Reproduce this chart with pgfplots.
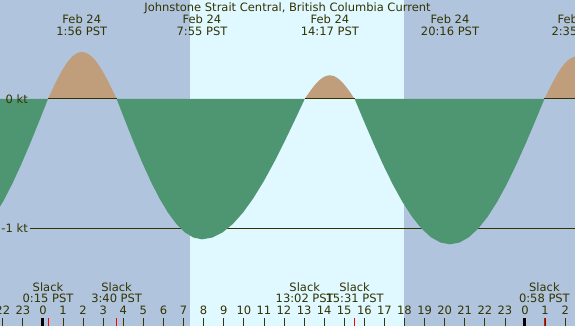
\documentclass[border=0pt]{standalone}
\usepackage{pgfplots}
\pgfplotsset{compat=1.18}
\usepackage{fontspec}
\setmainfont{DejaVu Sans}
\definecolor{nightc}{RGB}{176,196,222}
\definecolor{dayc}{RGB}{224,248,255}
\definecolor{ebbc}{RGB}{78,150,114}
\definecolor{floodc}{RGB}{192,158,124}
\definecolor{txt}{RGB}{51,51,0}
\newcommand{\lf}{\fontsize{11.5}{12.3}\selectfont}
\tikzset{lab/.style={anchor=base, inner sep=0pt, font=\lf, text=txt}}
\begin{document}
\begin{tikzpicture}
\begin{axis}[
  scale only axis, width=575pt, height=326pt,
  xmin=-2.14, xmax=26.49, ymin=-1.760, ymax=0.767,
  axis line style={draw=none},
  axis background/.style={fill=nightc},
  axis on top,
  ytick=\empty,
  xtick={-2,...,26},
  xticklabels={22,23,0,1,2,3,4,5,6,7,8,9,10,11,12,13,14,15,16,17,18,19,20,21,22,23,0,1,2},
  xtick pos=bottom, tick align=inside,
  major tick length=8pt,
  tick style={color=txt, line width=0.8pt},
  xticklabel style={anchor=base, yshift=11pt, font=\lf, text=txt, inner sep=0pt},
  extra x ticks={0,24}, extra x tick labels={},
  extra x tick style={tick style={color=black, line width=3pt}},
  clip=true,
]
% daylight band
\fill[dayc] (axis cs:7.32,-1.76) rectangle (axis cs:17.98,0.767);
% reference line at -1 kt
\draw[txt, line width=0.9pt] (axis cs:-0.65,-1) -- (axis cs:26.6,-1);
% ebb areas
\addplot[fill=ebbc, draw=none] coordinates {
 (-2.42,0) (-2.42,-0.906) (-1.975,-0.792) (-1.53,-0.658) (-1.085,-0.508) (-0.64,-0.346) (-0.195,-0.175) (0.25,0)
};
\addplot[fill=ebbc, draw=none] coordinates {
 (3.667,0) (4.092,-0.1702) (4.517,-0.3362) (4.942,-0.4940) (5.367,-0.6395) (5.792,-0.7693)
 (6.217,-0.8802) (6.642,-0.9694) (7.067,-1.0348) (7.492,-1.0746) (7.917,-1.088)
 (8.429,-1.0746) (8.940,-1.0348) (9.452,-0.9694) (9.963,-0.8802) (10.475,-0.7693)
 (10.987,-0.6395) (11.498,-0.4940) (12.010,-0.3362) (12.521,-0.1702) (13.033,0)
};
\addplot[fill=ebbc, draw=none] coordinates {
 (15.517,0) (15.992,-0.1763) (16.467,-0.3482) (16.942,-0.5117) (17.417,-0.6625) (17.892,-0.7969)
 (18.367,-0.9117) (18.842,-1.0042) (19.317,-1.0719) (19.792,-1.1131) (20.267,-1.127)
 (20.737,-1.1131) (21.207,-1.0719) (21.677,-1.0042) (22.147,-0.9117) (22.617,-0.7969)
 (23.087,-0.6625) (23.557,-0.5117) (24.027,-0.3482) (24.497,-0.1763) (24.967,0)
};
% flood areas
\addplot[fill=floodc, draw=none] coordinates {
 (0.25,0) (0.418,0.0569) (0.587,0.1125) (0.755,0.1653) (0.923,0.2140) (1.092,0.2574)
 (1.260,0.2945) (1.428,0.3243) (1.596,0.3462) (1.765,0.3595) (1.933,0.364)
 (2.106,0.3595) (2.280,0.3462) (2.453,0.3243) (2.627,0.2945) (2.800,0.2574)
 (2.973,0.2140) (3.147,0.1653) (3.320,0.1125) (3.494,0.0569) (3.667,0)
};
\addplot[fill=floodc, draw=none] coordinates {
 (13.033,0) (13.158,0.0286) (13.283,0.0565) (13.408,0.0831) (13.533,0.1076) (13.658,0.1294)
 (13.783,0.1480) (13.908,0.1631) (14.033,0.1741) (14.158,0.1807) (14.283,0.183)
 (14.406,0.1807) (14.530,0.1741) (14.653,0.1631) (14.777,0.1480) (14.900,0.1294)
 (15.023,0.1076) (15.147,0.0831) (15.270,0.0565) (15.394,0.0286) (15.517,0)
};
\addplot[fill=floodc, draw=none] coordinates {
 (24.967,0) (25.129,0.0516) (25.290,0.1020) (25.452,0.1498) (25.613,0.1940) (25.775,0.2333)
 (25.937,0.2670) (26.098,0.2940) (26.260,0.3139) (26.421,0.3259) (26.583,0.33) (26.75,0.327) (26.75,0)
};
% zero line, visible beneath the flood segments
\draw[txt, line width=0.9pt] (axis cs:0.25,0) -- (axis cs:3.667,0);
\draw[txt, line width=0.9pt] (axis cs:13.033,0) -- (axis cs:15.517,0);
\draw[txt, line width=0.9pt] (axis cs:24.967,0) -- (axis cs:26.6,0);
% slack marks
\draw[red, line width=0.9pt] (axis cs:0.25,-1.76) -- (axis cs:0.25,-1.698);
\draw[red, line width=0.9pt] (axis cs:3.667,-1.76) -- (axis cs:3.667,-1.698);
\draw[red, line width=0.9pt] (axis cs:13.033,-1.76) -- (axis cs:13.033,-1.698);
\draw[red, line width=0.9pt] (axis cs:15.517,-1.76) -- (axis cs:15.517,-1.698);
\draw[red, line width=0.9pt] (axis cs:24.967,-1.76) -- (axis cs:24.967,-1.698);
% y labels
\node[anchor=east, inner sep=0pt, font=\lf, text=txt] at (axis cs:-0.747,0) {0 kt};
\node[anchor=east, inner sep=0pt, font=\lf, text=txt] at (axis cs:-0.747,-1) {-1 kt};
% title
\node[lab] at (axis cs:12.176,0.6806) {Johnstone Strait Central, British Columbia Current};
% peak labels
\node[lab] at (axis cs:1.933,0.5876) {Feb 24};
\node[lab] at (axis cs:1.933,0.4907) {1:56 PST};
\node[lab] at (axis cs:7.917,0.5876) {Feb 24};
\node[lab] at (axis cs:7.917,0.4907) {7:55 PST};
\node[lab] at (axis cs:14.283,0.5876) {Feb 24};
\node[lab] at (axis cs:14.283,0.4907) {14:17 PST};
\node[lab] at (axis cs:20.267,0.5876) {Feb 24};
\node[lab] at (axis cs:20.267,0.4907) {20:16 PST};
\node[lab] at (axis cs:26.583,0.5876) {Feb 25};
\node[lab] at (axis cs:26.583,0.4907) {2:35 PST};
% slack labels
\node[lab] at (axis cs:0.25,-1.4915) {Slack};
\node[lab] at (axis cs:0.25,-1.5814) {0:15 PST};
\node[lab] at (axis cs:3.667,-1.4915) {Slack};
\node[lab] at (axis cs:3.667,-1.5814) {3:40 PST};
\node[lab] at (axis cs:13.033,-1.4915) {Slack};
\node[lab] at (axis cs:13.033,-1.5814) {13:02 PST};
\node[lab] at (axis cs:15.517,-1.4915) {Slack};
\node[lab] at (axis cs:15.517,-1.5814) {15:31 PST};
\node[lab] at (axis cs:24.967,-1.4915) {Slack};
\node[lab] at (axis cs:24.967,-1.5814) {0:58 PST};
\end{axis}
\pgfresetboundingbox
\useasboundingbox (current axis.south west) rectangle (current axis.north east);
\end{tikzpicture}
\end{document}
